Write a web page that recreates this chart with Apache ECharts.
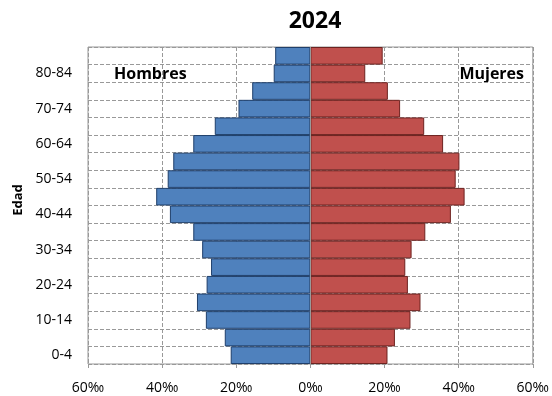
<!DOCTYPE html>
<html><head><meta charset="utf-8">
<script src="https://cdn.jsdelivr.net/npm/echarts@6/dist/echarts.min.js"></script>
<style>html,body{margin:0;padding:0;background:#fff}#c{width:552px;height:396px}</style>
</head><body><div id="c"></div>
<script>
const categories = ['0-4','5-9','10-14','15-19','20-24','25-29','30-34','35-39','40-44','45-49','50-54','55-59','60-64','65-69','70-74','75-79','80-84','85+'];
const hombres = [21.5,23.1,28.2,30.6,28.0,26.8,29.2,31.6,37.9,41.6,38.5,37.0,31.6,25.8,19.4,15.7,9.9,9.5];
const mujeres = [20.8,22.8,27.0,29.7,26.3,25.6,27.3,31.0,37.9,41.6,39.2,40.2,35.8,30.7,24.2,20.9,14.8,19.5];
const xTicks = [-60,-40,-20,0,20,40,60];

const font = '"Open Sans", "Noto Sans", sans-serif';
const chart = echarts.init(document.getElementById('c'), null, {renderer:'canvas'});
chart.setOption({
  animation:false,
  title:{text:'2024', left:310, top:5, textAlign:'center',
    textStyle:{fontFamily:font, fontWeight:'bold', fontSize:23, color:'#000'}},
  grid:{left:88, right:17, top:47, bottom:32, show:true, borderColor:'#999', borderWidth:1},
  xAxis:{type:'value', min:xTicks[0], max:xTicks[xTicks.length-1], interval:20,
    axisLine:{show:false}, axisTick:{show:true, length:4, lineStyle:{color:'#999'}},
    axisLabel:{margin:17, fontFamily:font, fontSize:14, color:'#000',
      formatter:v=>Math.abs(v)+'‰'},
    splitLine:{show:true, lineStyle:{type:'dashed', color:'#999', width:1}}},
  yAxis:{type:'category', data:categories, boundaryGap:true,
    axisLine:{show:false},
    axisTick:{show:false},
    axisLabel:{interval:1, margin:16, fontFamily:font, fontSize:14, color:'#000'},
    splitLine:{show:true, interval:0, lineStyle:{type:'dashed', color:'#999', width:1}}},
  series:[
    {name:'Hombres', type:'bar', data:hombres.map(v=>-v), barGap:'-100%', barCategoryGap:'0%',
      itemStyle:{color:'#4F81BD', borderColor:'#1F3F6B', borderWidth:1},
      markLine:{silent:true, symbol:'none', label:{show:false},
        lineStyle:{type:'solid', color:'#999', width:1}, data:[{xAxis:0}]}},
    {name:'Mujeres', type:'bar', data:mujeres, barGap:'-100%', barCategoryGap:'0%',
      itemStyle:{color:'#C0504D', borderColor:'#6E2320', borderWidth:1}}
  ],
  graphic:[
    {type:'text', left:114, top:66, style:{text:'Hombres', fontFamily:font, fontWeight:'bold', fontSize:16, fill:'#000'}},
    {type:'text', right:28, top:66, style:{text:'Mujeres', fontFamily:font, fontWeight:'bold', fontSize:16, fill:'#000'}},
    {type:'text', x:18, y:200, rotation:Math.PI/2,
      style:{text:'Edad', fontFamily:font, fontWeight:'bold', fontSize:13, fill:'#000', align:'center', verticalAlign:'middle'}}
  ]
});
</script></body></html>
